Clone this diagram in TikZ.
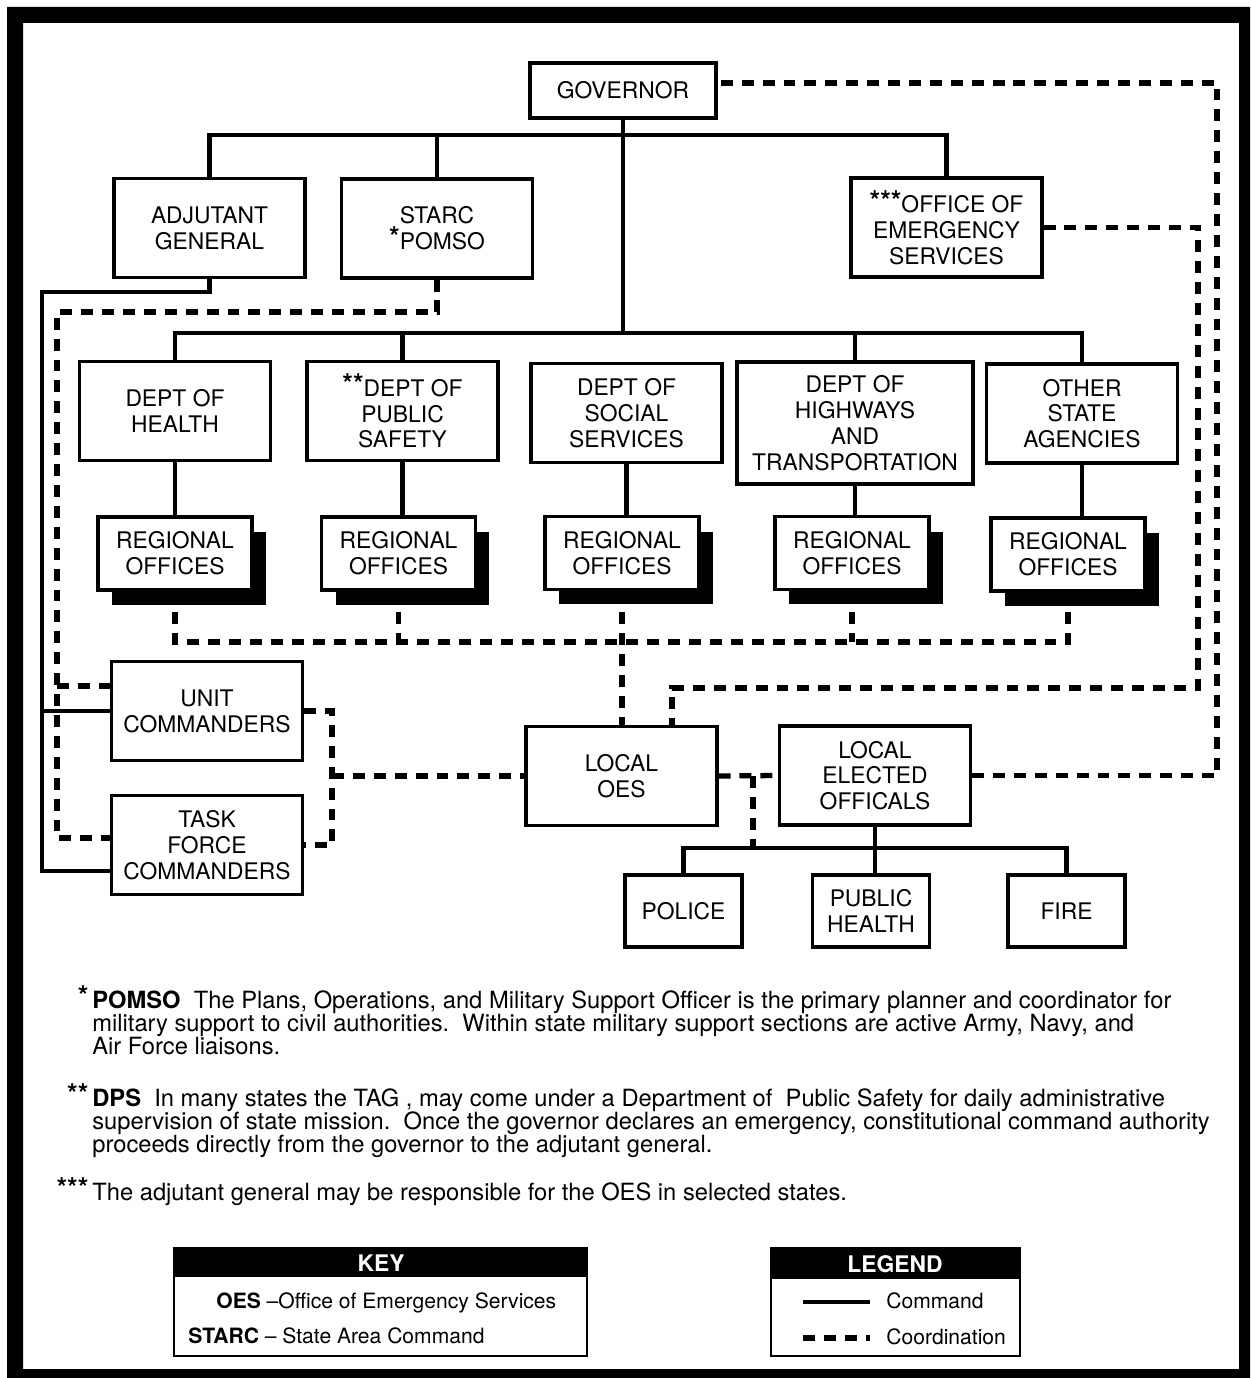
\documentclass[tikz,border=0pt]{standalone}
\usepackage{fontspec}
\setmainfont{TeX Gyre Heros}
\usetikzlibrary{shadows}

\newcommand\boxfont{\fontsize{13}{14.7}\selectfont}
\newcommand\notefont{\fontsize{13.5}{16}\selectfont}
\newcommand\keyfont{\fontsize{12}{14}\selectfont}
\newcommand\stars[1]{\raisebox{0.12em}{\bfseries\fontsize{15.5}{15.5}\selectfont#1}}

\tikzset{
  orgbox/.style = {draw, line width=1.8pt, fill=white, align=center, inner sep=0pt, font=\boxfont},
  bigbox/.style = {orgbox, minimum width=3.82cm, minimum height=1.98cm},
  regbox/.style = {orgbox, minimum width=3.08cm, minimum height=1.46cm,
                   drop shadow={opacity=1, fill=black, shadow xshift=0.28cm, shadow yshift=-0.3cm}},
  smallbox/.style = {orgbox, minimum width=2.34cm, minimum height=1.44cm},
  cmdline/.style = {line width=2.8pt},
  coordline/.style = {line width=3pt, dash pattern=on 6.8pt off 5.1pt},
  note/.style = {anchor=base west, inner sep=0pt, font=\notefont},
  keytext/.style = {anchor=base west, inner sep=0pt, font=\keyfont}
}

\begin{document}
\begin{tikzpicture}[x=0.02cm, y=-0.02cm]
   \useasboundingbox (0,0) rectangle (1250,1378);
   \fill[black, even odd rule] (7,7) rectangle (1250,1378) (23,23) rectangle (1239,1369);

   \node[orgbox, minimum width=3.72cm, minimum height=1.1cm] (gov) at (623,90.5) {GOVERNOR};
   \node[bigbox] (adj)   at (209.5,228) {ADJUTANT\\GENERAL};
   \node[bigbox] (starc) at (437,228.5) {STARC\\\stars{*}POMSO};
   \node[bigbox] (oes)   at (946.5,227.5) {\stars{***}OFFICE OF\\EMERGENCY\\SERVICES};

   \node[bigbox] (health)  at (175,411)    {DEPT OF\\HEALTH};
   \node[bigbox] (safety)  at (402.5,411)  {\stars{**}DEPT OF\\PUBLIC\\SAFETY};
   \node[bigbox] (social)  at (626.5,413)  {DEPT OF\\SOCIAL\\SERVICES};
   \node[orgbox, minimum width=4.72cm, minimum height=2.44cm] (highways) at (855,423)
        {DEPT OF\\HIGHWAYS\\AND\\TRANSPORTATION};
   \node[bigbox] (other)   at (1082,413.5) {OTHER\\STATE\\AGENCIES};

   \node[regbox] (reg1) at (175,553.5)  {REGIONAL\\OFFICES};
   \node[regbox] (reg2) at (398.5,553.5) {REGIONAL\\OFFICES};
   \node[regbox] (reg3) at (622,553)    {REGIONAL\\OFFICES};
   \node[regbox] (reg4) at (852,553)    {REGIONAL\\OFFICES};
   \node[regbox] (reg5) at (1068,554.5) {REGIONAL\\OFFICES};

   \node[bigbox] (unit) at (207,711) {UNIT\\COMMANDERS};
   \node[bigbox] (task) at (207,845) {TASK\\FORCE\\COMMANDERS};
   \node[bigbox] (loes) at (621.5,776) {LOCAL\\OES};
   \node[bigbox] (leo)  at (875,775.5) {LOCAL\\ELECTED\\OFFICALS};

   \node[smallbox] (police)  at (683.5,911) {POLICE};
   \node[smallbox] (phealth) at (871,911)   {PUBLIC\\HEALTH};
   \node[smallbox] (fire)    at (1066.5,911) {FIRE};

   \coordinate (bar1) at (0,135);
   \coordinate (bar2) at (0,333);
   \coordinate (bar3) at (0,848);
   \coordinate (rbar) at (0,642);
   \coordinate (lc1) at (42,292);
   \coordinate (lc2) at (42,871);
   \coordinate (ld1) at (57,312);
   \coordinate (ld2) at (57,838);
   \coordinate (ud)  at (0,686);
   \coordinate (rd)  at (332,0);
   \coordinate (lj)  at (753,0);
   \coordinate (rx1) at (1217,0);
   \coordinate (gtop) at (0,83);
   \coordinate (rx2) at (1198,0);
   \coordinate (oy)  at (0,688);
   \coordinate (lx)  at (672,0);

   \draw[cmdline] (gov.south) -- (gov.south |- bar2);
   \draw[cmdline] (adj.north) -- (adj.north |- bar1) -- (oes.north |- bar1) -- (oes.north);
   \draw[cmdline] (starc.north) -- (starc.north |- bar1);
   \draw[cmdline] (health.north) -- (health.north |- bar2) -- (other.north |- bar2) -- (other.north);
   \foreach \d in {safety,highways}
      \draw[cmdline] (\d.north) -- (\d.north |- bar2);
   \foreach \d/\r in {health/reg1,safety/reg2,social/reg3,highways/reg4,other/reg5}
      \draw[cmdline] (\d.south) -- (\d.south |- \r.north);
   \draw[cmdline] (adj.south) |- (lc1) -- (lc2) -- (task.west |- lc2);
   \draw[cmdline] (lc1 |- unit.west) -- (unit.west);
   \draw[cmdline] (leo.south) -- (leo.south |- phealth.north);
   \draw[cmdline] (police.north) -- (police.north |- bar3) -- (fire.north |- bar3) -- (fire.north);

   \draw[coordline] (starc.south) |- (ld1) -- (ld2) -- (task.west |- ld2);
   \draw[coordline] (ld1 |- ud) -- (unit.west |- ud);
   \draw[coordline] (unit.east) -| (rd |- task.east) -- (task.east);
   \draw[coordline] (rd |- loes.west) -- (loes.west);
   \draw[coordline] (reg1.south) -- (reg1.south |- rbar) -- (reg5.south |- rbar) -- (reg5.south);
   \foreach \r in {reg2,reg4}
      \draw[coordline] (\r.south) -- (\r.south |- rbar);
   \draw[coordline] (reg3.south) -- (reg3.south |- loes.north);
   \draw[coordline] (loes.east) -- (leo.west);
   \draw[coordline] (lj |- loes.east) -- (lj |- bar3);
   \draw[coordline] (leo.east) -| (rx1 |- gtop) -- (gov.east |- gtop);
   \draw[coordline] (oes.east) -| (rx2 |- oy) -| (loes.north -| lx);

   \node[note] (fn1) at (92,1008) {\llap{\stars{*}\,}\textbf{POMSO}\ \ The Plans, Operations, and Military Support Officer is the primary planner and coordinator for};
   \node[note] (fn2) at (92,1031) {military support to civil authorities.\ \ Within state military support sections are active Army, Navy, and};
   \node[note] (fn3) at (92,1054) {Air Force liaisons.};
   \node[note] (fn4) at (92,1106) {\llap{\stars{**}\,}\textbf{DPS}\ \ In many states the TAG , may come under a Department of\ \ Public Safety for daily administrative};
   \node[note] (fn5) at (92,1129) {supervision of state mission.\ \ Once the governor declares an emergency, constitutional command authority};
   \node[note] (fn6) at (92,1152) {proceeds directly from the governor to the adjutant general.};
   \node[note] (fn7) at (92,1200) {\llap{\stars{***}\,}The adjutant general may be responsible for the OES in selected states.};

   \draw[line width=1.2pt] (174,1248) rectangle (587,1356);
   \fill (174,1248) rectangle (587,1277);
   \node[text=white, font=\bfseries\fontsize{13}{15}\selectfont] (keyhead) at (381,1263) {KEY};
   \node[keytext] (key1) at (216,1308) {\textbf{OES} --Office of Emergency Services};
   \node[keytext] (key2) at (188,1343) {\textbf{STARC} -- State Area Command};

   \draw[line width=1.2pt] (771,1248) rectangle (1020,1356);
   \fill (771,1248) rectangle (1020,1279);
   \node[text=white, font=\bfseries\fontsize{13}{15}\selectfont] (leghead) at (895,1264) {LEGEND};
   \coordinate (cmdA) at (803,1302);
   \coordinate (cmdB) at (870,1302);
   \coordinate (crdA) at (803,1338);
   \coordinate (crdB) at (870,1338);
   \draw[cmdline] (cmdA) -- (cmdB);
   \draw[coordline] (crdA) -- (crdB);
   \node[keytext] (leg1) at (886,1308) {Command};
   \node[keytext] (leg2) at (886,1344) {Coordination};
\end{tikzpicture}
\end{document}
